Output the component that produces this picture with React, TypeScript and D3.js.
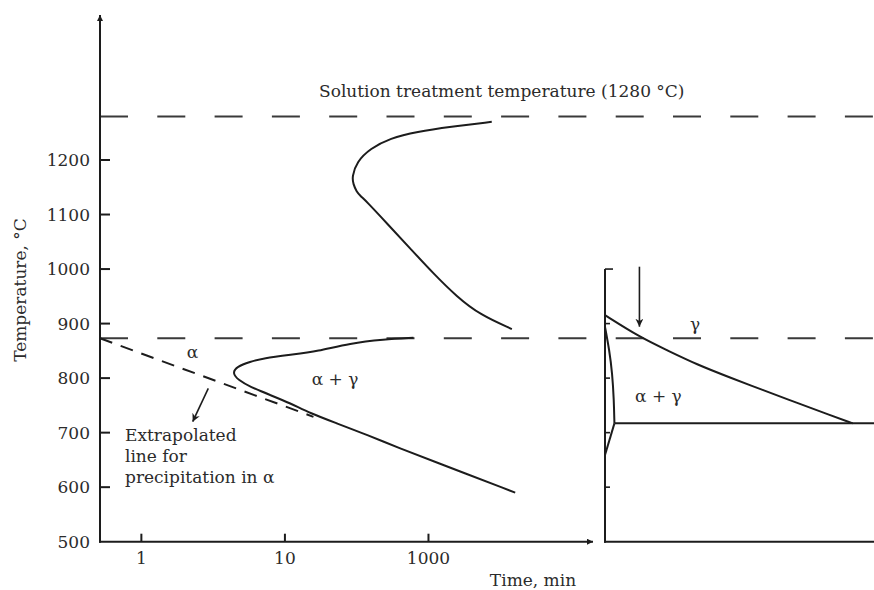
import React from "react";
import * as d3 from "d3";

// ---------- data ----------
const yTickValues = [500, 600, 700, 800, 900, 1000, 1100, 1200];
const xTickValues = [1, 10, 100];
const xTickLabels = ["1", "10", "1000"];
const rightTickValues = [600, 700, 800, 900, 1000];

const solutionTemp = 1280;
const criticalTemp = 873;

// upper C-curve [time (min), temperature °C]
const upperCurve: [number, number][] = [
  [276, 1270], [142, 1261], [83, 1252], [54, 1240], [39.3, 1221], [31.7, 1197],
  [29.3, 1169], [29.95, 1156], [31.5, 1142], [33.9, 1133], [36.7, 1125],
  [51.3, 1084], [74.5, 1038], [108, 992], [158, 949], [229, 916], [381, 890],
];

// lower C-curve
const lowerCurve: [number, number][] = [
  [78.6, 874], [48.6, 871], [28.5, 864], [16.7, 849], [11.5, 843.5],
  [7.0, 836.5], [5.72, 830], [4.62, 821], [4.3, 809], [4.74, 796.5], [5.72, 784],
  [7.89, 769], [10.9, 754], [15.0, 735.5], [23.0, 717], [37.2, 696], [63.5, 671],
  [103, 650], [402, 590],
];

// extrapolated line for precipitation in α
const extrapolated: [number, number][] = [[0.515, 873], [15.8, 729]];

// right panel (arbitrary time, 0–100)
const rightGamma: [number, number][] = [
  [0, 915.5], [13.0, 875], [22.9, 851.6], [34.1, 825], [46.5, 801], [58.8, 778],
  [71.2, 755], [83.6, 732.4], [92.1, 717],
];
const rightEutectoid: [number, number][] = [[3.5, 717], [100, 717]];
const rightBulge: [number, number][] = [
  [0, 894], [1.6, 851.6], [2.7, 808.8], [3.3, 760], [3.5, 717],
];
const rightLower: [number, number][] = [[3.5, 717], [0, 659]];

// ---------- layout ----------
const W = 874;
const H = 590;
const font = "'DejaVu Serif', serif";
const textColor = "#2b2b2b";
const lineColor = "#1c1c1c";
const fs = 17;

const y = d3.scaleLinear().domain([500, 1200]).range([541.7, 160]);
const x = d3.scaleLog().domain([0.515, 1400]).range([100, 593]);
const xr = d3.scaleLinear().domain([0, 100]).range([605, 874]);

const lineL = d3
  .line<[number, number]>()
  .x((d) => x(d[0]))
  .y((d) => y(d[1]))
  .curve(d3.curveBasis);
const lineR = d3
  .line<[number, number]>()
  .x((d) => xr(d[0]))
  .y((d) => y(d[1]))
  .curve(d3.curveBasis);
const straightL = d3
  .line<[number, number]>()
  .x((d) => x(d[0]))
  .y((d) => y(d[1]));
const straightR = d3
  .line<[number, number]>()
  .x((d) => xr(d[0]))
  .y((d) => y(d[1]));

export default function App() {
  const x0 = x.range()[0];
  const x1 = x.range()[1];
  const yBase = y(500);
  const yTop = 15;
  const yCrit = y(criticalTemp);
  const ySol = y(solutionTemp);
  const xr0 = xr.range()[0];
  const xr1 = xr.range()[1];

  return (
    <svg
      width={W}
      height={H}
      style={{ position: "absolute", left: 0, top: 0, background: "#fff" }}
      fontFamily={font}
    >
      <defs>
        <marker id="ah" viewBox="0 0 10 10" refX="10" refY="5" markerWidth="8" markerHeight="8" markerUnits="userSpaceOnUse" orient="auto">
          <path d="M0,0 L10,5 L0,10 L3,5 z" fill={lineColor} />
        </marker>
        <marker id="axh" viewBox="0 0 10 10" refX="10" refY="5" markerWidth="7" markerHeight="6" markerUnits="userSpaceOnUse" orient="auto">
          <path d="M0,0 L10,5 L0,10 z" fill={lineColor} />
        </marker>
      </defs>

      {/* dashed reference lines */}
      <line x1={x0} x2={W} y1={ySol} y2={ySol} stroke="#3a3a3a" strokeWidth={2} strokeDasharray="28 29.3" />
      <line x1={x0} x2={W} y1={yCrit} y2={yCrit} stroke="#3a3a3a" strokeWidth={2} strokeDasharray="28 29.3" />
      <text x={319} y={97} fontSize={fs} fill={textColor}>
        Solution treatment temperature (1280 °C)
      </text>

      {/* left axes */}
      <line x1={x0} x2={x0} y1={yBase + 1} y2={yTop} stroke={lineColor} strokeWidth={2} markerEnd="url(#axh)" />
      <line x1={x0 - 1} x2={x1} y1={yBase} y2={yBase} stroke={lineColor} strokeWidth={2} markerEnd="url(#axh)" />
      {yTickValues.map((v) => (
        <g key={v}>
          {v > 500 && <line x1={x0} x2={x0 + 10} y1={y(v)} y2={y(v)} stroke={lineColor} strokeWidth={2} />}
          <text x={90} y={y(v)} dy="0.36em" textAnchor="end" fontSize={fs} fill={textColor}>
            {v}
          </text>
        </g>
      ))}
      {xTickValues.map((v, i) => (
        <g key={v}>
          <line x1={x(v)} x2={x(v)} y1={yBase} y2={yBase - 8} stroke={lineColor} strokeWidth={2} />
          <text x={x(v)} y={564} textAnchor="middle" fontSize={fs} fill={textColor}>
            {xTickLabels[i]}
          </text>
        </g>
      ))}
      <text x={533} y={586} textAnchor="middle" fontSize={fs} fill={textColor}>
        Time, min
      </text>
      <text transform="translate(26,290) rotate(-90)" textAnchor="middle" fontSize={fs} fill={textColor}>
        Temperature, °C
      </text>

      {/* left curves */}
      <path d={lineL(upperCurve) || ""} fill="none" stroke={lineColor} strokeWidth={2} />
      <path d={lineL(lowerCurve) || ""} fill="none" stroke={lineColor} strokeWidth={2} />
      <path d={straightL(extrapolated) || ""} fill="none" stroke={lineColor} strokeWidth={2} strokeDasharray="13 9" />
      <line x1={208.3} y1={388.3} x2={192.7} y2={421.7} stroke={lineColor} strokeWidth={1.6} markerEnd="url(#ah)" />

      <text x={192.5} y={358} textAnchor="middle" fontSize={fs} fill={textColor}>α</text>
      <text x={311.7} y={385} fontSize={fs} fill={textColor}>α + γ</text>
      <text x={125} fontSize={fs} fill={textColor}>
        <tspan x={125} y={441}>Extrapolated</tspan>
        <tspan x={125} y={462}>line for</tspan>
        <tspan x={125} y={483}>precipitation in α</tspan>
      </text>

      {/* right panel */}
      <line x1={xr0} x2={xr0} y1={y(500) + 1} y2={y(1000)} stroke={lineColor} strokeWidth={2} />
      <line x1={xr0 - 1} x2={xr1} y1={yBase} y2={yBase} stroke={lineColor} strokeWidth={2} />
      {rightTickValues.map((v) => (
        <line key={v} x1={xr0} x2={xr0 + (v === 1000 ? 8 : 5)} y1={y(v)} y2={y(v)} stroke={lineColor} strokeWidth={1.6} />
      ))}
      <path d={lineR(rightGamma) || ""} fill="none" stroke={lineColor} strokeWidth={2} />
      <path d={straightR(rightEutectoid) || ""} fill="none" stroke={lineColor} strokeWidth={2} />
      <path d={lineR(rightBulge) || ""} fill="none" stroke={lineColor} strokeWidth={2} />
      <path d={straightR(rightLower) || ""} fill="none" stroke={lineColor} strokeWidth={2} />
      <line x1={xr(12.8)} x2={xr(12.8)} y1={266.7} y2={326.7} stroke={lineColor} strokeWidth={1.6} markerEnd="url(#ah)" />
      <text x={695} y={330} textAnchor="middle" fontSize={fs} fill={textColor}>γ</text>
      <text x={635} y={402} fontSize={fs} fill={textColor}>α + γ</text>
    </svg>
  );
}
